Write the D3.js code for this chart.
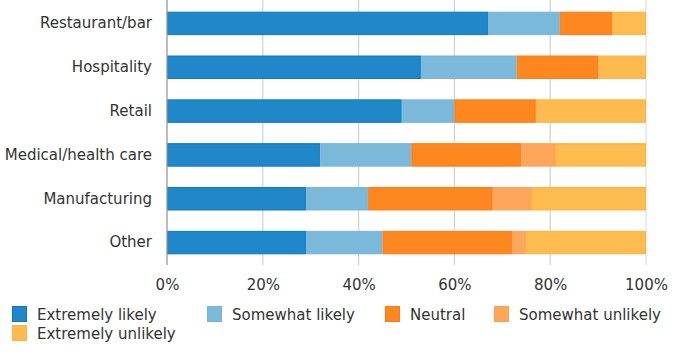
<!DOCTYPE html>
<html><head><meta charset="utf-8">
<script src="https://cdn.jsdelivr.net/npm/d3@7/dist/d3.min.js"></script>
<style>
body{margin:0;background:#fff;}
text{font-family:"DejaVu Sans",Verdana,sans-serif;}
</style></head>
<body><svg id="c" width="675" height="360"></svg>
<script>
const categories = ["Restaurant/bar","Hospitality","Retail","Medical/health care","Manufacturing","Other"];
const seriesNames = ["Extremely likely","Somewhat likely","Neutral","Somewhat unlikely","Extremely unlikely"];
const extremelyLikely   = [67, 53, 49, 32, 29, 29];
const somewhatLikely    = [15, 20, 11, 19, 13, 16];
const neutral           = [11, 17, 17, 23, 26, 27];
const somewhatUnlikely  = [0, 0, 0, 7, 8, 3];
const extremelyUnlikely = [7, 10, 23, 19, 24, 25];
const tickValues = [0, 20, 40, 60, 80, 100];
const tickLabels = ["0%","20%","40%","60%","80%","100%"];

const fills   = ["#2088c8","#7bb9db","#fe8720","#fea75a","#fdbb50"];
const strokes = ["#0b78c0","#75b5da","#fb7a16","#fda055","#fdb43c"];

const seriesVals = [extremelyLikely, somewhatLikely, neutral, somewhatUnlikely, extremelyUnlikely];
const rows = categories.map((c,i)=>{const o={cat:c}; seriesNames.forEach((s,j)=>o[s]=seriesVals[j][i]); return o;});
const stack = d3.stack().keys(seriesNames)(rows);

const svg = d3.select("#c");
const x = d3.scaleLinear().domain([0,100]).range([167,646]);
const y = d3.scaleBand().domain(categories).range([1.5,264.5]).paddingInner(0.465).paddingOuter(0.2325);

// gridlines
svg.append("g").selectAll("line").data(tickValues.slice(1)).join("line")
  .attr("x1",d=>x(d)).attr("x2",d=>x(d)).attr("y1",0).attr("y2",265)
  .attr("stroke",d=>d===100?"#e0e0e0":"#d4d4d4").attr("stroke-width",1.3);

// bars
stack.forEach((layer,j)=>{
  svg.append("g").selectAll("rect").data(layer.filter(d=>d[1]-d[0]>0)).join("rect")
    .attr("x",d=>x(d[0])+0.5).attr("width",d=>Math.max(0,x(d[1])-x(d[0])-1))
    .attr("y",d=>y(d.data.cat)+0.5).attr("height",y.bandwidth()-1)
    .attr("fill",fills[j]).attr("stroke",strokes[j]).attr("stroke-width",1);
});

// left axis line
svg.append("line").attr("x1",x(0)).attr("x2",x(0)).attr("y1",0).attr("y2",265)
  .attr("stroke","#999").attr("stroke-width",1.3);

const FONT = "'DejaVu Sans',Verdana,sans-serif";
// y labels
const ya = svg.append("g").attr("transform",`translate(${x(0)},0)`)
  .call(d3.axisLeft(y).tickSize(0).tickPadding(15));
ya.select(".domain").remove();
ya.selectAll("text").attr("font-size",15).attr("fill","#333").style("font-family",FONT);

// x axis labels
const xa = svg.append("g").attr("transform","translate(0,265)")
  .call(d3.axisBottom(x).tickValues(tickValues).tickFormat((d,i)=>tickLabels[i]).tickSize(0).tickPadding(14));
xa.select(".domain").remove();
xa.selectAll("text").attr("font-size",15).attr("fill","#333").style("font-family",FONT);

// legend
const legendPos = [[12,306],[207,306],[385,306],[494,306],[12,325]];
const lg = svg.append("g");
seriesNames.forEach((s,j)=>{
  const [lx,ly] = legendPos[j];
  lg.append("rect").attr("x",lx+0.5).attr("y",ly+0.5).attr("width",14).attr("height",15)
    .attr("fill",fills[j]).attr("stroke",strokes[j]);
  lg.append("text").attr("x",lx+25).attr("y",ly+8.5).attr("dy","0.35em")
    .attr("font-size",15).attr("fill","#333").style("font-family",FONT).text(s);
});
</script></body></html>
